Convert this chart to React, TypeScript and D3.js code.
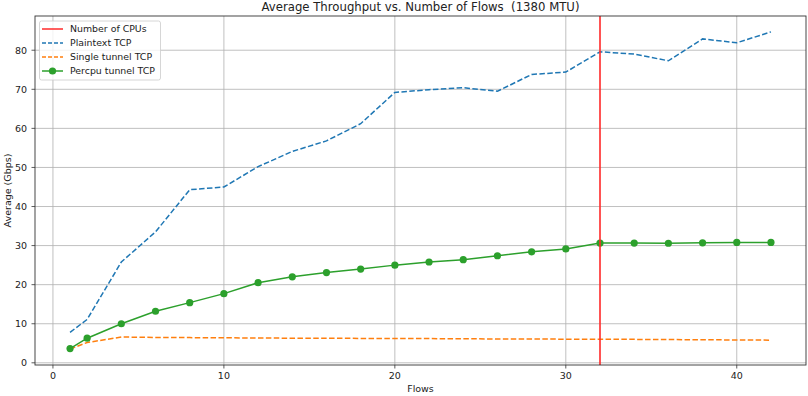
import React from "react";
import * as d3 from "d3";

const flows = [1, 2, 4, 6, 8, 10, 12, 14, 16, 18, 20, 22, 24, 26, 28, 30, 32, 34, 36, 38, 40, 42];
const plaintext = [7.8, 11.1, 25.8, 33.5, 44.3, 45.0, 50.2, 54.1, 56.8, 61.2, 69.2, 69.9, 70.4, 69.5, 73.8, 74.4, 79.6, 79.0, 77.3, 82.9, 81.9, 84.7];
const singleTunnel = [3.5, 5.2, 6.6, 6.5, 6.45, 6.4, 6.35, 6.3, 6.3, 6.25, 6.2, 6.2, 6.15, 6.1, 6.1, 6.05, 6.0, 6.0, 5.95, 5.9, 5.85, 5.8];
const percpu = [3.65, 6.3, 10.0, 13.2, 15.4, 17.7, 20.5, 22.0, 23.1, 24.0, 25.0, 25.8, 26.4, 27.4, 28.4, 29.15, 30.65, 30.65, 30.6, 30.7, 30.8, 30.8];
const numCpus = 32;
const xTicks = [0, 10, 20, 30, 40];
const yTicks = [0, 10, 20, 30, 40, 50, 60, 70, 80];
const legendLabels = ["Number of CPUs", "Plaintext TCP", "Single tunnel TCP", "Percpu tunnel TCP"];

const W = 808, H = 396;
const L = 35, R = 806, T = 16, B = 365;
const FONT = "DejaVu Sans, sans-serif";
const BLUE = "#1f77b4", ORANGE = "#ff7f0e", GREEN = "#2ca02c", RED = "#ff2a2a";

export default function App() {
  const allY = [...plaintext, ...singleTunnel, ...percpu];
  const yMin = d3.min(allY)!, yMax = d3.max(allY)!;
  const yPad = (yMax - yMin) * 0.05;
  const xMin = d3.min(flows)!, xMax = d3.max(flows)!;
  const xPad = (xMax - xMin) * 0.05;
  const x = d3.scaleLinear().domain([xMin - xPad, xMax + xPad]).range([L, R]);
  const y = d3.scaleLinear().domain([yMin - yPad, yMax + yPad]).range([B, T]);
  const line = (vals: number[]) =>
    d3.line<number>().x((_, i) => x(flows[i])).y((v) => y(v))(vals) || "";

  return (
    <svg width={W} height={H} style={{ position: "absolute", left: 0, top: 0, background: "#fff" }} fontFamily={FONT}>
      <rect x={0} y={0} width={W} height={H} fill="#fff" />
      {/* grid */}
      {xTicks.map((t) => (
        <line key={"gx" + t} x1={x(t)} x2={x(t)} y1={T} y2={B} stroke="#b0b0b0" strokeWidth={0.8} />
      ))}
      {yTicks.map((t) => (
        <line key={"gy" + t} x1={L} x2={R} y1={y(t)} y2={y(t)} stroke="#b0b0b0" strokeWidth={0.8} />
      ))}
      {/* series */}
      <path d={line(plaintext)} fill="none" stroke={BLUE} strokeWidth={1.5} strokeDasharray="5.5,2.4" />
      <path d={line(singleTunnel)} fill="none" stroke={ORANGE} strokeWidth={1.5} strokeDasharray="5.5,2.4" />
      <path d={line(percpu)} fill="none" stroke={GREEN} strokeWidth={1.5} />
      {percpu.map((v, i) => (
        <circle key={"m" + i} cx={x(flows[i])} cy={y(v)} r={3.6} fill={GREEN} />
      ))}
      <line x1={x(numCpus)} x2={x(numCpus)} y1={T} y2={B} stroke={RED} strokeWidth={1.6} />
      {/* spines */}
      <rect x={L} y={T} width={R - L} height={B - T} fill="none" stroke="#333" strokeWidth={0.9} />
      {/* ticks */}
      {xTicks.map((t) => (
        <g key={"xt" + t}>
          <line x1={x(t)} x2={x(t)} y1={B} y2={B + 3.5} stroke="#333" strokeWidth={0.8} />
          <text x={x(t)} y={B + 14} fontSize={9.5} textAnchor="middle" fill="#222">{t}</text>
        </g>
      ))}
      {yTicks.map((t) => (
        <g key={"yt" + t}>
          <line x1={L - 3.5} x2={L} y1={y(t)} y2={y(t)} stroke="#333" strokeWidth={0.8} />
          <text x={L - 8} y={y(t) + 3.4} fontSize={9.5} textAnchor="end" fill="#222">{t}</text>
        </g>
      ))}
      {/* labels */}
      <text x={(L + R) / 2} y={11} fontSize={11.7} textAnchor="middle" fill="#222" style={{ whiteSpace: "pre" }}>
        {"Average Throughput vs. Number of Flows  (1380 MTU)"}
      </text>
      <text x={(L + R) / 2} y={392} fontSize={9.5} textAnchor="middle" fill="#222">Flows</text>
      <text transform={`translate(10.5,${(T + B) / 2}) rotate(-90)`} fontSize={9.5} textAnchor="middle" fill="#222">Average (Gbps)</text>
      {/* legend */}
      <g>
        <rect x={39.5} y={21} width={121} height={59} rx={2} fill="#fff" fillOpacity={0.8} stroke="#ccc" strokeWidth={0.8} />
        {legendLabels.map((lab, i) => {
          const yy = 29 + i * 14;
          const color = [RED, BLUE, ORANGE, GREEN][i];
          return (
            <g key={lab}>
              <line x1={42} x2={63} y1={yy} y2={yy} stroke={color} strokeWidth={1.5}
                strokeDasharray={i === 1 || i === 2 ? "4,2" : undefined} />
              {i === 3 && <circle cx={52.5} cy={yy} r={3.6} fill={GREEN} />}
              <text x={70} y={yy + 3.4} fontSize={9.4} fill="#222">{lab}</text>
            </g>
          );
        })}
      </g>
    </svg>
  );
}
